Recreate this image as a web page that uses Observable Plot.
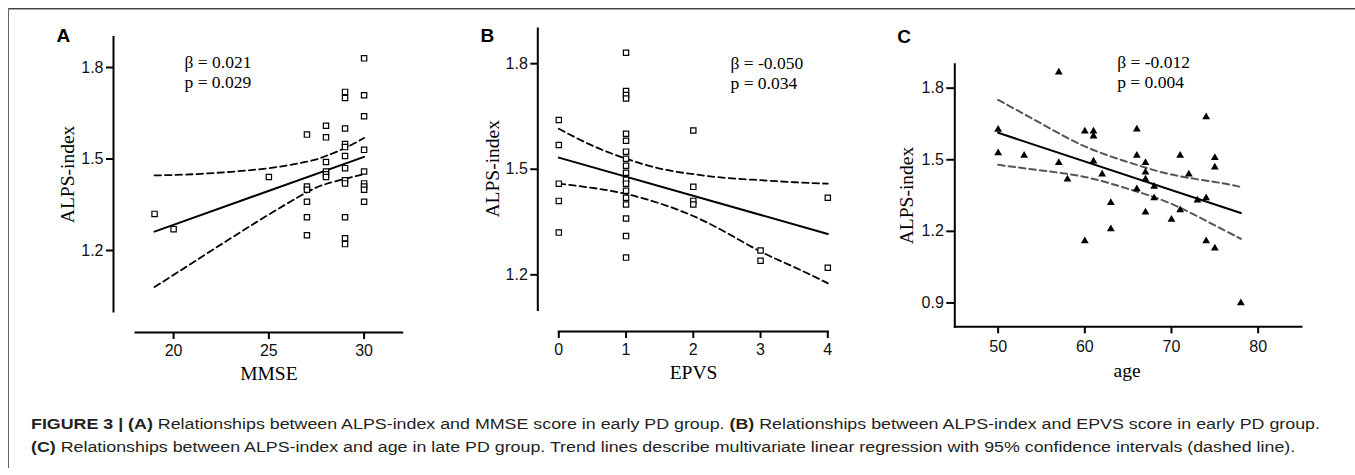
<!DOCTYPE html>
<html>
<head>
<meta charset="utf-8">
<script src="https://cdn.jsdelivr.net/npm/d3@7"></script>
<script src="https://cdn.jsdelivr.net/npm/@observablehq/plot@0.6"></script>
<style>
  html, body { margin: 0; padding: 0; background: #fff; }
  body { width: 1355px; height: 475px; overflow: hidden; position: relative; }
  #top1 { position: absolute; left: 8px; top: 8px; width: 1347px; height: 1px; background: #444; }
  #top2 { position: absolute; left: 8px; top: 9px; width: 1347px; height: 1px; background: #aaa; }
  #left { position: absolute; left: 8px; top: 8px; width: 1px; height: 460px; background: #666; }
  .panel { position: absolute; top: 0; }
  #caption { position: absolute; left: 31px; top: 413px; font-family: "Liberation Sans", Arial, sans-serif;
             font-size: 14px; line-height: 23px; color: #231f20; white-space: nowrap; transform-origin: 0 0; }
  #caption div { display: block; }
</style>
</head>
<body>
<div id="top1"></div><div id="top2"></div><div id="left"></div>
<div id="pA" class="panel" style="left:0px"></div>
<div id="pB" class="panel" style="left:440px"></div>
<div id="pC" class="panel" style="left:870px"></div>
<div id="caption">
  <div id="cap1"><b>FIGURE 3 | (A)</b> Relationships between ALPS-index and MMSE score in early PD group. <b>(B)</b> Relationships between ALPS-index and EPVS score in early PD group.</div>
  <div id="cap2"><b>(C)</b> Relationships between ALPS-index and age in late PD group. Trend lines describe multivariate linear regression with 95% confidence intervals (dashed line).</div>
</div>
<script>
// ---------- Panel A data (MMSE vs ALPS-index) ----------
const mmseA = [19,20,25, 27,27,27,27,27,27, 28,28,28,28,28,28,
  29,29,29,29,29,29,29,29,29,29,29,29, 30,30,30,30,30,30,30,30,30];
const alpsA = [1.320,1.270,1.441, 1.580,1.410,1.399,1.360,1.309,1.250, 1.609,1.571,1.490,1.459,1.450,1.441,
  1.720,1.700,1.600,1.549,1.539,1.510,1.470,1.430,1.420,1.309,1.240,1.221,
  1.830,1.709,1.640,1.530,1.459,1.420,1.410,1.399,1.360];
const fitAx = [19, 30];
const fitAy = [1.262, 1.507];
const ciAx = [19, 21, 23, 25, 27, 28, 29, 30];
const ciAup = [1.446, 1.450, 1.458, 1.470, 1.491, 1.510, 1.536, 1.569];
const ciAlo = [1.080, 1.160, 1.240, 1.318, 1.391, 1.418, 1.435, 1.450];
const ticksAx = [20, 25, 30];
const ticksAy = [1.2, 1.5, 1.8];
const statA = "β = 0.021\np = 0.029";

// ---------- Panel B data (EPVS vs ALPS-index) ----------
const epvsB = [0,0,0,0,0,
  1,1,1,1,1,1,1,1,1,1,1,1,1,1,1,1,1,1,
  2,2,2,2, 3,3, 4,4];
const alpsB = [1.640,1.569,1.459,1.410,1.320,
  1.831,1.722,1.711,1.701,1.601,1.581,1.550,1.530,1.510,1.490,1.470,1.459,1.439,1.419,1.400,1.360,1.310,1.249,
  1.610,1.450,1.410,1.400, 1.269,1.240, 1.419,1.220];
const fitBx = [0, 4];
const fitBy = [1.533, 1.316];
const ciBx = [0, 0.5, 1, 1.5, 2, 2.5, 3, 3.5, 4];
const ciBup = [1.615, 1.567, 1.530, 1.502, 1.486, 1.475, 1.469, 1.463, 1.459];
const ciBlo = [1.459, 1.447, 1.430, 1.403, 1.367, 1.319, 1.266, 1.222, 1.176];
const ticksBx = [0, 1, 2, 3, 4];
const ticksBy = [1.2, 1.5, 1.8];
const statB = "β = -0.050\np = 0.034";

// ---------- Panel C data (age vs ALPS-index) ----------
const ageC = [50,50,53,57,57,58,60,60,61,61,61,62,63,63,66,66,66,67,67,67,67,68,68,70,71,71,72,73,74,74,74,75,75,75,78];
const alpsC = [1.627,1.528,1.518,1.867,1.487,1.418,1.619,1.160,1.619,1.599,1.494,1.439,1.320,1.210,
  1.628,1.518,1.377,1.487,1.448,1.418,1.280,1.388,1.340,1.250,1.518,1.289,1.439,1.330,
  1.679,1.340,1.160,1.508,1.469,1.129,0.900];
const fitCx = [50, 78];
const fitCy = [1.613, 1.277];
const ciCx = [50, 55, 60, 65, 70, 75, 78];
const ciCup = [1.751, 1.651, 1.556, 1.490, 1.438, 1.407, 1.386];
const ciClo = [1.479, 1.455, 1.428, 1.378, 1.315, 1.225, 1.169];
const ticksCx = [50, 60, 70, 80];
const ticksCy = [0.9, 1.2, 1.5, 1.8];
const statC = "β = -0.012\np = 0.004";

const SANS = "'Liberation Sans', Arial, sans-serif";
const SERIF = "'Liberation Serif', 'Times New Roman', serif";
const pts = (xs, ys) => xs.map((x, i) => ({x, y: ys[i]}));

function panel(cfg) {
  const marks = [
    Plot.frame({anchor: "left", insetBottom: cfg.yInset, strokeWidth: 2, strokeLinecap: "square"}),
    Plot.frame({anchor: "bottom", insetLeft: cfg.xInset, strokeWidth: 2, strokeLinecap: "square"}),
    Plot.axisY({ticks: cfg.yTicks, tickFormat: d3.format(".1f"), tickSize: cfg.yTickSize, tickPadding: 3,
      strokeWidth: 2, label: null, fontFamily: SANS, fontSize: 16, fill: "#111"}),
    Plot.axisX({ticks: cfg.xTicks, tickFormat: d3.format("d"), tickSize: 7, tickPadding: cfg.xPad,
      strokeWidth: 2, label: null, fontFamily: SANS, fontSize: 16, fill: "#111"}),
    Plot.line(pts(cfg.ciX, cfg.ciUp), {x: "x", y: "y", curve: "natural", stroke: cfg.dashColor,
      strokeWidth: cfg.dashWidth, strokeDasharray: "6.5,4"}),
    Plot.line(pts(cfg.ciX, cfg.ciLo), {x: "x", y: "y", curve: "natural", stroke: cfg.dashColor,
      strokeWidth: cfg.dashWidth, strokeDasharray: "6.5,4"}),
    Plot.line(pts(cfg.fitX, cfg.fitY), {x: "x", y: "y", stroke: "#000", strokeWidth: 2}),
    cfg.triangle
      ? Plot.dot(pts(cfg.px, cfg.py), {x: "x", y: "y", symbol: "triangle", r: 2.9, fill: "#000", stroke: "none"})
      : Plot.dot(pts(cfg.px, cfg.py), {x: "x", y: "y", symbol: "square", r: 3.0, fill: "#fff", stroke: "#000", strokeWidth: 1.2}),
    Plot.text([cfg.stat], {text: d => d, frameAnchor: "top-left", textAnchor: "start", lineAnchor: "bottom",
      dx: cfg.statDx, dy: cfg.statDy, lineHeight: 1.15, fontFamily: SERIF, fontSize: 17.5, fill: "#000"}),
    Plot.text([cfg.letter], {text: d => d, frameAnchor: "top-left", textAnchor: "start", lineAnchor: "bottom",
      dx: cfg.letterDx, dy: cfg.letterDy, fontFamily: SANS, fontWeight: "bold", fontSize: 19, fill: "#000"}),
    Plot.text(["ALPS-index"], {text: d => d, frameAnchor: "left", rotate: -90, textAnchor: "middle", lineAnchor: "bottom",
      dx: cfg.ylabDx, dy: cfg.ylabDy, fontFamily: SERIF, fontSize: 19.5, fill: "#000"}),
    Plot.text([cfg.xlabel], {text: d => d, frameAnchor: "bottom", textAnchor: "middle", lineAnchor: "bottom",
      dx: cfg.xlabDx, dy: cfg.xlabDy, fontFamily: SERIF, fontSize: 19.5, fill: "#000"})
  ];
  return Plot.plot({
    width: cfg.width, height: 400,
    marginLeft: cfg.ml, marginTop: cfg.mt, marginRight: cfg.mr, marginBottom: cfg.mb,
    x: {domain: cfg.xDomain, insetLeft: cfg.xInset},
    y: {domain: cfg.yDomain, insetBottom: cfg.yInset},
    style: {background: "transparent", color: "#000", overflow: "visible"},
    marks
  });
}

document.getElementById("pA").append(panel({
  width: 440, ml: 113, mt: 36.5, mr: 38.3, mb: 68,
  xDomain: [18, 32], yDomain: [1.0, 1.9], xInset: 22, yInset: 21,
  xTicks: ticksAx, yTicks: ticksAy, yTickSize: 7, xPad: 5,
  px: mmseA, py: alpsA, fitX: fitAx, fitY: fitAy, ciX: ciAx, ciUp: ciAup, ciLo: ciAlo,
  dashColor: "#000", dashWidth: 1.8, triangle: false,
  stat: statA, statDx: 71, statDy: 50.8,
  letter: "A", letterDx: -57, letterDy: 5.2,
  ylabDx: -39.7, ylabDy: -10.3, xlabel: "MMSE", xlabDx: 11, xlabDy: 47.7
}));

document.getElementById("pB").append(panel({
  width: 430, ml: 97.3, mt: 28, mr: 42.7, mb: 69,
  xDomain: [0, 4], yDomain: [1.1, 1.9], xInset: 21, yInset: 21.5,
  xTicks: ticksBx, yTicks: ticksBy, yTickSize: 7, xPad: 5,
  px: epvsB, py: alpsB, fitX: fitBx, fitY: fitBy, ciX: ciBx, ciUp: ciBup, ciLo: ciBlo,
  dashColor: "#000", dashWidth: 1.8, triangle: false,
  stat: statB, statDx: 192.7, statDy: 60.3,
  letter: "B", letterDx: -57.3, letterDy: 13.7,
  ylabDx: -39, ylabDy: -11.2, xlabel: "EPVS", xlabDx: 10.7, xlabDy: 47.3
}));

document.getElementById("pC").append(panel({
  width: 485, ml: 84.3, mt: 63.8, mr: 54, mb: 73.7,
  xDomain: [45, 85], yDomain: [0.8, 1.9], xInset: 0, yInset: 0,
  xTicks: ticksCx, yTicks: ticksCy, yTickSize: 8, xPad: 7,
  px: ageC, py: alpsC, fitX: fitCx, fitY: fitCy, ciX: ciCx, ciUp: ciCup, ciLo: ciClo,
  dashColor: "#555", dashWidth: 2, triangle: true,
  stat: statC, statDx: 162.4, statDy: 23.5,
  letter: "C", letterDx: -57.6, letterDy: -21.1,
  ylabDx: -42, ylabDy: 0, xlabel: "age", xlabDx: -1, xlabDy: 50.4
}));

// stretch caption horizontally to match the reference line length
const cap = document.getElementById("caption");
const c1 = document.getElementById("cap1");
const natural = c1.getBoundingClientRect().width;
const target = 1289;
cap.style.width = natural + "px";
cap.style.transform = `scaleX(${target / natural})`;
</script>
</body>
</html>
